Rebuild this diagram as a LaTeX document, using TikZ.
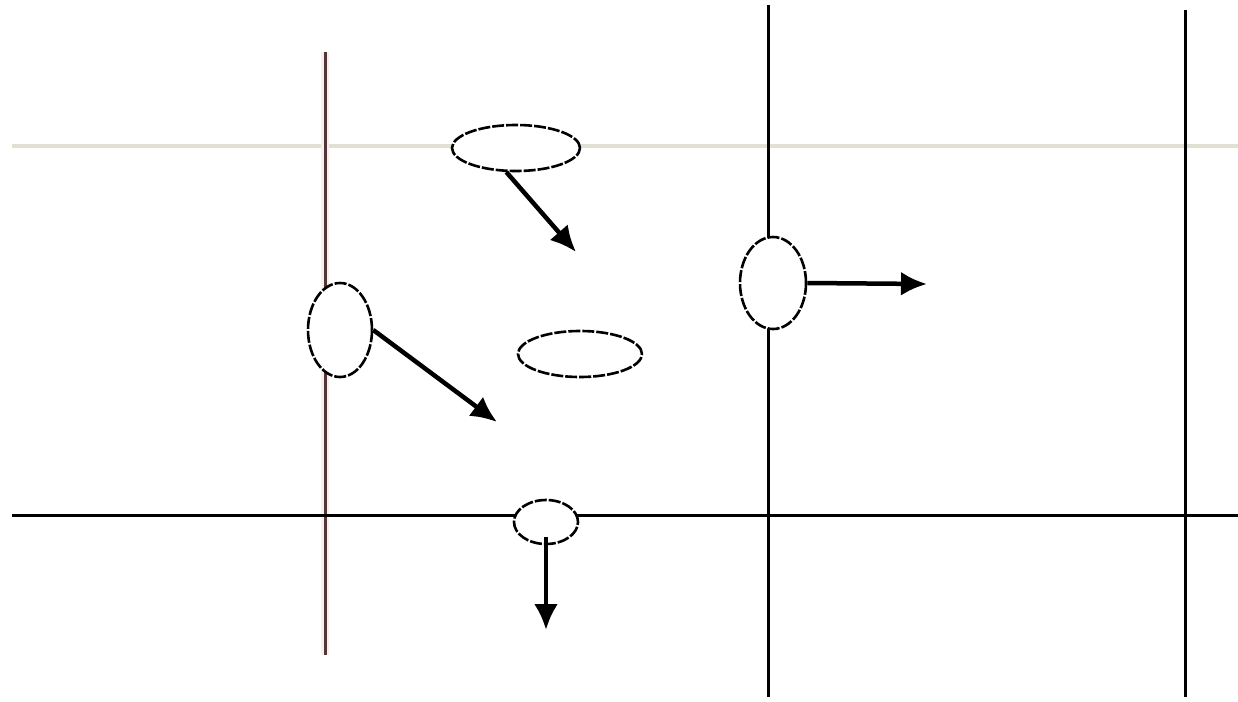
\documentclass[tikz,border=0pt]{standalone}
\usetikzlibrary{shapes.geometric,arrows.meta}
\definecolor{beige}{RGB}{226,224,210}
\definecolor{redline}{RGB}{80,55,58}
\definecolor{redfringe}{RGB}{253,238,238}
\tikzset{
  axis/.style={line width=3pt, black},
  blob/.style={ellipse, draw=black, line width=2.6pt, dash pattern=on 12pt off 2pt, fill=white, inner sep=0pt},
  move/.style={line width=4.5pt, black, -{Latex[length=26pt,width=24pt]}}
}
\begin{document}
\begin{tikzpicture}[x=1pt,y=-1pt]
\useasboundingbox (0,0) rectangle (1238,701);
\fill[white] (0,0) rectangle (1238,701);
% lines
\draw[line width=3.5pt, beige] (12,146) coordinate (bL) -- (1238,146) coordinate (bR);
\draw[line width=8pt, redfringe] (325,52) -- (325,655);
\draw[line width=3pt, redline] (325,52) coordinate (rT) -- (325,655) coordinate (rB);
\draw[axis] (768,5) coordinate (v1T) -- (768,697) coordinate (v1B);
\draw[axis] (1185,10) coordinate (v2T) -- (1185,697) coordinate (v2B);
\draw[axis] (12,515) coordinate (hL) -- (1238,515) coordinate (hR);
% ellipses
\node[blob, minimum width=128pt, minimum height=46pt] (tE) at (516,148) {};
\node[blob, minimum width=64pt, minimum height=94pt] (lE) at (340,330) {};
\node[blob, minimum width=124pt, minimum height=46pt] (mE) at (580,354) {};
\node[blob, minimum width=64pt, minimum height=44pt] (bE) at (546,522) {};
\node[blob, minimum width=66pt, minimum height=92pt] (rE) at (773,283) {};
% arrow ends
\coordinate (tA) at (576,252);
\coordinate (lA) at (497,422);
\coordinate (bA) at (546,630);
\coordinate (rA) at (927,284);
% arrows
\draw[move] (tE.248) -- (tA);
\draw[move] (lE.east) -- (lA);
\draw[move] ([yshift=8pt]bE.south) -- (bA);
\draw[move] (rE.east) -- (rA);
\end{tikzpicture}
\end{document}
